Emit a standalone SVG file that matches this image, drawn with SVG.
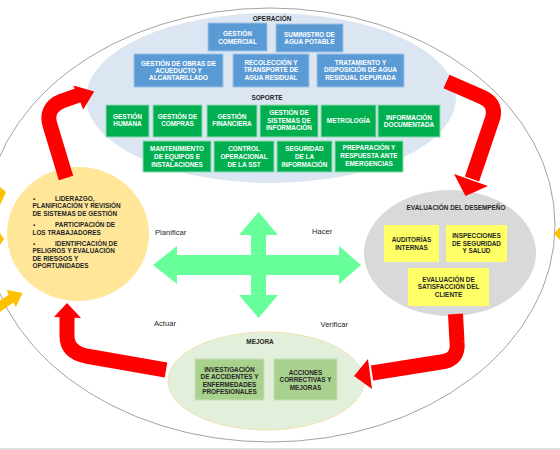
<svg xmlns="http://www.w3.org/2000/svg" width="560" height="450" viewBox="0 0 560 450">
<defs><style>
text{font-family:"Liberation Sans",Arial,sans-serif}
.b{font-size:6.4px;font-weight:bold;text-anchor:middle}
.w{fill:#ffffff}
.d{fill:#262626}
.l{font-size:6.4px;font-weight:bold;fill:#262626}
.p{font-size:7.6px;fill:#262626}
.op{fill:#5b9bd5;stroke:#9cc2e5;stroke-width:1}
.sp{fill:#00b050;stroke:#8fd9ae;stroke-width:1}
.ev{fill:#ffff66}
.mj{fill:#a9d18e;stroke:#c5e0b4;stroke-width:1}
.red{fill:none;stroke:#ff0000;stroke-width:15;stroke-linejoin:round}
.rh{fill:#ff0000}
.or{fill:#ffc000}
</style></defs>
<rect width="560" height="450" fill="#ffffff"/>
<line x1="0" y1="449" x2="560" y2="449" stroke="#c0c0c0" stroke-width="1"/>
<ellipse id="ciclo" cx="270" cy="225" rx="285" ry="217" fill="none" stroke="#8c8c8c" stroke-width="0.8"/>

<g id="operacion">
<ellipse cx="271" cy="98" rx="185" ry="85" fill="#dce6f2"/>
<text class="b d" x="272" y="21.3">OPERACIÓN</text>
<g id="gestion-comercial"><rect class="op" x="208" y="23" width="59" height="28"/><text class="b w" x="237.5" y="36.3">GESTIÓN</text><text class="b w" x="237.5" y="43.5">COMERCIAL</text></g>
<g id="suministro"><rect class="op" x="276" y="24" width="67" height="28"/><text class="b w" x="309.5" y="36.6">SUMINISTRO DE</text><text class="b w" x="309.5" y="44">AGUA POTABLE</text></g>
<g id="obras"><rect class="op" x="134" y="54" width="89" height="33"/><text class="b w" x="178.5" y="65.6">GESTIÓN DE OBRAS DE</text><text class="b w" x="178.5" y="72.9">ACUEDUCTO Y</text><text class="b w" x="178.5" y="80.2">ALCANTARILLADO</text></g>
<g id="recoleccion"><rect class="op" x="233" y="54" width="76" height="33"/><text class="b w" x="271" y="64.6">RECOLECCIÓN Y</text><text class="b w" x="271" y="72.3">TRANSPORTE DE</text><text class="b w" x="271" y="80">AGUA RESIDUAL</text></g>
<g id="tratamiento"><rect class="op" x="317" y="54" width="87" height="33"/><text class="b w" x="360.5" y="64.6">TRATAMIENTO Y</text><text class="b w" x="360.5" y="72.3">DISPOSICIÓN DE AGUA</text><text class="b w" x="360.5" y="80">RESIDUAL DEPURADA</text></g>
</g>

<g id="soporte">
<text class="b d" x="267" y="100">SOPORTE</text>
<g id="gestion-humana"><rect class="sp" x="106" y="105" width="43" height="32"/><text class="b w" x="127.5" y="119">GESTIÓN</text><text class="b w" x="127.5" y="126.3">HUMANA</text></g>
<g id="gestion-compras"><rect class="sp" x="153" y="105" width="49" height="32"/><text class="b w" x="177.5" y="119">GESTIÓN DE</text><text class="b w" x="177.5" y="126.3">COMPRAS</text></g>
<g id="gestion-financiera"><rect class="sp" x="207" y="105" width="50" height="32"/><text class="b w" x="232" y="119">GESTIÓN</text><text class="b w" x="232" y="126.3">FINANCIERA</text></g>
<g id="sistemas-informacion"><rect class="sp" x="260" y="105" width="58" height="32"/><text class="b w" x="289" y="115.3">GESTIÓN DE</text><text class="b w" x="289" y="122.8">SISTEMAS DE</text><text class="b w" x="289" y="130.3">INFORMACIÓN</text></g>
<g id="metrologia"><rect class="sp" x="321" y="105" width="55" height="32"/><text class="b w" x="348.5" y="122.6">METROLOGÍA</text></g>
<g id="informacion-documentada"><rect class="sp" x="378" y="105" width="62" height="32"/><text class="b w" x="409" y="119.6">INFORMACIÓN</text><text class="b w" x="409" y="127">DOCUMENTADA</text></g>
<g id="mantenimiento"><rect class="sp" x="143" y="141" width="68" height="31"/><text class="b w" x="177" y="151.3">MANTENIMIENTO</text><text class="b w" x="177" y="159">DE EQUIPOS E</text><text class="b w" x="177" y="166.6">INSTALACIONES</text></g>
<g id="control-operacional"><rect class="sp" x="214" y="141" width="60" height="31"/><text class="b w" x="244" y="151.3">CONTROL</text><text class="b w" x="244" y="159">OPERACIONAL</text><text class="b w" x="244" y="166.6">DE LA SST</text></g>
<g id="seguridad-informacion"><rect class="sp" x="277" y="141" width="55" height="31"/><text class="b w" x="304.5" y="151.3">SEGURIDAD</text><text class="b w" x="304.5" y="159">DE LA</text><text class="b w" x="304.5" y="166.6">INFORMACIÓN</text></g>
<g id="emergencias"><rect class="sp" x="335" y="141" width="68" height="31"/><text class="b w" x="369" y="150.3">PREPARACIÓN Y</text><text class="b w" x="369" y="158">RESPUESTA ANTE</text><text class="b w" x="369" y="165.6">EMERGENCIAS</text></g>
</g>

<g id="planificacion">
<ellipse cx="78" cy="234" rx="71" ry="67" fill="#ffe699"/>
<text class="l"><tspan x="33" y="201.3">▪</tspan><tspan x="55" y="201.3">LIDERAZGO,</tspan></text>
<text class="l" x="32.5" y="208.3">PLANIFICACIÓN Y REVISIÓN</text>
<text class="l" x="32.5" y="215.6">DE SISTEMAS DE GESTIÓN</text>
<text class="l"><tspan x="33" y="227.3">▪</tspan><tspan x="55" y="227.3">PARTICIPACIÓN DE</tspan></text>
<text class="l" x="32.5" y="234.6">LOS TRABAJADORES</text>
<text class="l"><tspan x="33" y="245.6">▪</tspan><tspan x="55" y="245.6">IDENTIFICACIÓN DE</tspan></text>
<text class="l" x="32.5" y="253">PELIGROS Y EVALUACIÓN</text>
<text class="l" x="32.5" y="260.6">DE RIESGOS Y</text>
<text class="l" x="32.5" y="268.3">OPORTUNIDADES</text>
</g>

<g id="evaluacion">
<ellipse cx="450" cy="253" rx="86" ry="63" fill="#d9d9d9"/>
<text class="b d" x="456" y="210.3">EVALUACIÓN DEL DESEMPEÑO</text>
<g id="auditorias"><rect class="ev" x="384" y="225" width="55" height="37"/><text class="b d" x="411.5" y="242.3">AUDITORÍAS</text><text class="b d" x="411.5" y="250">INTERNAS</text></g>
<g id="inspecciones"><rect class="ev" x="446" y="225" width="61" height="37"/><text class="b d" x="476.5" y="238">INSPECCIONES</text><text class="b d" x="476.5" y="245.6">DE SEGURIDAD</text><text class="b d" x="476.5" y="253.3">Y SALUD</text></g>
<g id="satisfaccion"><rect class="ev" x="408" y="268" width="81" height="38"/><text class="b d" x="448.5" y="281.6">EVALUACIÓN DE</text><text class="b d" x="448.5" y="289.3">SATISFACCIÓN DEL</text><text class="b d" x="448.5" y="297">CLIENTE</text></g>
</g>

<g id="mejora">
<ellipse cx="266" cy="381" rx="98" ry="49" fill="#e2efda" stroke="#f2e2b2" stroke-width="1"/>
<text class="b d" x="260" y="344.3">MEJORA</text>
<g id="investigacion"><rect class="mj" x="195" y="359" width="69" height="41"/><text class="b d" x="229.5" y="371.6">INVESTIGACIÓN</text><text class="b d" x="229.5" y="379">DE ACCIDENTES Y</text><text class="b d" x="229.5" y="386.5">ENFERMEDADES</text><text class="b d" x="229.5" y="393.6">PROFESIONALES</text></g>
<g id="acciones"><rect class="mj" x="274" y="359" width="63" height="41"/><text class="b d" x="305.5" y="374.6">ACCIONES</text><text class="b d" x="305.5" y="382.3">CORRECTIVAS Y</text><text class="b d" x="305.5" y="389.6">MEJORAS</text></g>
</g>

<g id="pdca">
<polygon fill="#66ff99" points="258.5,212 278,235 266,235 266,255 339,255 339,246 361,265 339,284 339,275 266,275 266,295 278,295 258.5,318 239,295 251,295 251,275 177,275 177,284 153,265 177,246 177,255 251,255 251,235 239,235"/>
<text class="p" x="155" y="235">Planificar</text>
<text class="p" x="312" y="233.5">Hacer</text>
<text class="p" x="154" y="326">Actuar</text>
<text class="p" x="320.5" y="327">Verificar</text>
</g>

<g id="connectors">
<path class="red" d="M66,178 L50,125 Q45,108 62,101 L79,95"/>
<polygon class="rh" points="94.2,91.4 83.2,109.4 73.4,85.4"/>
<path class="red" d="M446.5,81.5 L482,97 Q496,103 493,117 L472,179"/>
<polygon class="rh" points="465.5,196 488,186 454,174"/>
<path class="red" d="M455.5,314 L457,342 Q459,360 441,362 L372,373"/>
<polygon class="rh" points="354,376 368,359 372,389"/>
<path class="red" d="M166,370 L86,356 Q67,352 67,336 L67,317"/>
<polygon class="rh" points="67,303 54,317 81,318"/>
<polygon class="or" points="0,187 6,192 0,205"/>
<polygon class="or" points="0,233 4,239 0,245"/>
<polygon class="or" points="22.5,293 15.9,307 13.3,302.4 -5.5,315.9 -10.5,307.5 8.5,295 6.9,290"/>
<polygon class="or" points="560,227 554,233.5 560,240"/>
</g>
</svg>
